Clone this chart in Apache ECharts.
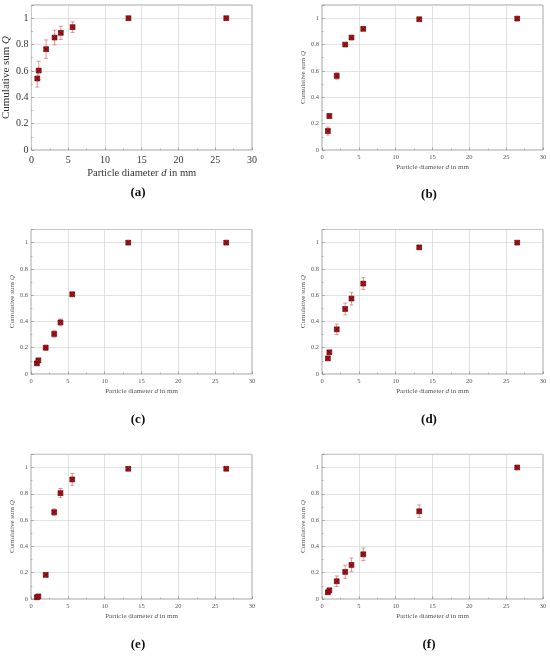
<!DOCTYPE html>
<html><head><meta charset="utf-8">
<script src="https://cdn.jsdelivr.net/npm/echarts@6/dist/echarts.min.js"></script>
<style>html,body{margin:0;padding:0;background:#fff}#c{width:550px;height:656px}</style>
</head><body><div id="c"></div>
<script>
const diam = [0.8, 1, 2, 3.15, 4, 5.6, 13.2, 26.5];
const qA = [0.542, 0.603, 0.765, 0.853, 0.889, 0.932, 1.0, 1.0];
const eA = [0.065, 0.07, 0.07, 0.056, 0.05, 0.04, 0.005, 0.003];
const qB = [0.144, 0.258, 0.562, 0.8, 0.853, 0.919, 0.992, 0.997];
const eB = [0.03, 0.015, 0.025, 0.008, 0.008, 0.008, 0.006, 0.003];
const qC = [0.081, 0.104, 0.2, 0.305, 0.393, 0.607, 1.0, 1.0];
const eC = [0.015, 0.015, 0.02, 0.025, 0.025, 0.015, 0.005, 0.003];
const qD = [0.119, 0.165, 0.34, 0.495, 0.574, 0.688, 0.964, 1.0];
const eD = [0.01, 0.015, 0.04, 0.045, 0.048, 0.045, 0.01, 0.003];
const qE = [0.013, 0.02, 0.183, 0.66, 0.805, 0.909, 0.99, 0.99];
const eE = [0.005, 0.005, 0.01, 0.025, 0.035, 0.045, 0.005, 0.003];
const qF = [0.051, 0.066, 0.135, 0.206, 0.259, 0.34, 0.667, 1.0];
const eF = [0.015, 0.015, 0.04, 0.05, 0.052, 0.048, 0.048, 0.003];
const panelLabels = ['(a)', '(b)', '(c)', '(d)', '(e)', '(f)'];
const xTicks = { min: 0, max: 30, interval: 5 };
const yTicks = { min: 0, max: 1.1, interval: 0.2 };

const panels = [
  { q: qA, e: eA, left: 31, top: 5, h: 145, big: true },
  { q: qB, e: eB, left: 322, top: 5, h: 145 },
  { q: qC, e: eC, left: 31, top: 229.5, h: 144.5 },
  { q: qD, e: eD, left: 322, top: 229.5, h: 144.5 },
  { q: qE, e: eE, left: 31, top: 454.3, h: 144.7 },
  { q: qF, e: eF, left: 322, top: 454.3, h: 144.7 }
];
const labelPos = [[138, 193], [429, 195], [138, 420], [429, 420], [138, 645], [429, 645]];

const FONT = '"Liberation Serif", "DejaVu Serif", serif';
const grid = [], xAxis = [], yAxis = [], series = [], graphic = [];

panels.forEach((p, i) => {
  const fs = p.big ? 10 : 6.5;
  const nfs = p.big ? 10.5 : 7;
  const col = p.big ? '#333' : '#555';
  grid.push({ left: p.left, top: p.top, width: 221, height: p.h, show: true, borderColor: '#8a8a8a', borderWidth: 0.8, containLabel: false });
  xAxis.push({
    type: 'value', gridIndex: i, min: xTicks.min, max: xTicks.max, interval: xTicks.interval,
    axisLine: { show: false },
    axisTick: { inside: true, length: 2.5, lineStyle: { color: '#777', width: 0.6 } },
    minorTick: { show: true, splitNumber: 2, length: 1.5, lineStyle: { color: '#777', width: 0.5 } },
    splitLine: { show: true, lineStyle: { color: '#d6d6d6', width: 0.7 } },
    axisLabel: { fontFamily: FONT, fontSize: fs, color: col, margin: p.big ? 5 : 4 },
    name: 'Particle diameter {i|d} in mm', nameLocation: 'middle', nameGap: p.big ? 18 : 14,
    nameTextStyle: { fontFamily: FONT, fontSize: nfs, color: col,
      rich: { i: { fontFamily: FONT, fontStyle: 'italic', fontSize: nfs, color: col } } }
  });
  yAxis.push({
    type: 'value', gridIndex: i, min: yTicks.min, max: yTicks.max, interval: yTicks.interval,
    axisLine: { show: false },
    axisTick: { inside: true, length: 2.5, lineStyle: { color: '#777', width: 0.6 } },
    minorTick: { show: true, splitNumber: 2, length: 1.5, lineStyle: { color: '#777', width: 0.5 } },
    splitLine: { show: true, lineStyle: { color: '#d6d6d6', width: 0.7 } },
    axisLabel: { fontFamily: FONT, fontSize: fs, color: col, margin: 3,
      formatter: v => v > 1.05 ? '' : String(Number(v.toFixed(1))) },
    name: 'Cumulative sum {i|Q}', nameLocation: 'middle', nameGap: p.big ? 16 : 13, nameRotate: 90,
    nameTextStyle: { fontFamily: FONT, fontSize: p.big ? 11 : 7, color: col,
      rich: { i: { fontFamily: FONT, fontStyle: 'italic', fontSize: p.big ? 11 : 7, color: col } } }
  });
  const errData = diam.map((d, k) => [d, p.q[k], p.e[k]]);
  series.push({
    type: 'custom', xAxisIndex: i, yAxisIndex: i, data: errData, z: 2,
    renderItem: (params, api) => {
      const x = api.value(0), y = api.value(1), e = api.value(2);
      const lo = api.coord([x, y - e]), hi = api.coord([x, y + e]);
      const cw = 2;
      const st = { stroke: '#e06a6a', lineWidth: 0.7 };
      return { type: 'group', children: [
        { type: 'line', shape: { x1: lo[0], y1: lo[1], x2: hi[0], y2: hi[1] }, style: st },
        { type: 'line', shape: { x1: lo[0] - cw, y1: lo[1], x2: lo[0] + cw, y2: lo[1] }, style: st },
        { type: 'line', shape: { x1: hi[0] - cw, y1: hi[1], x2: hi[0] + cw, y2: hi[1] }, style: st }
      ] };
    }
  });
  series.push({
    type: 'custom', xAxisIndex: i, yAxisIndex: i, data: diam.map((d, k) => [d, p.q[k]]), z: 3,
    renderItem: (params, api) => {
      const c = api.coord([api.value(0), api.value(1)]);
      const s = 2.4;
      return { type: 'group', children: [
        { type: 'rect', shape: { x: c[0] - s, y: c[1] - s, width: 2 * s, height: 2 * s },
          style: { fill: '#c8101a', stroke: '#5c0a0a', lineWidth: 0.7 } },
        { type: 'line', shape: { x1: c[0] - s, y1: c[1] - s, x2: c[0] + s, y2: c[1] + s }, style: { stroke: '#3a0505', lineWidth: 0.6 } },
        { type: 'line', shape: { x1: c[0] - s, y1: c[1] + s, x2: c[0] + s, y2: c[1] - s }, style: { stroke: '#3a0505', lineWidth: 0.6 } }
      ] };
    }
  });
  graphic.push({ type: 'text', x: labelPos[i][0], y: labelPos[i][1],
    style: { text: panelLabels[i], fontFamily: FONT, fontWeight: 'bold', fontSize: 13, fill: '#111', align: 'center', verticalAlign: 'middle' } });
});

const chart = echarts.init(document.getElementById('c'), null, { renderer: 'canvas' });
chart.setOption({ animation: false, backgroundColor: '#fff', grid, xAxis, yAxis, series, graphic });
</script></body></html>
